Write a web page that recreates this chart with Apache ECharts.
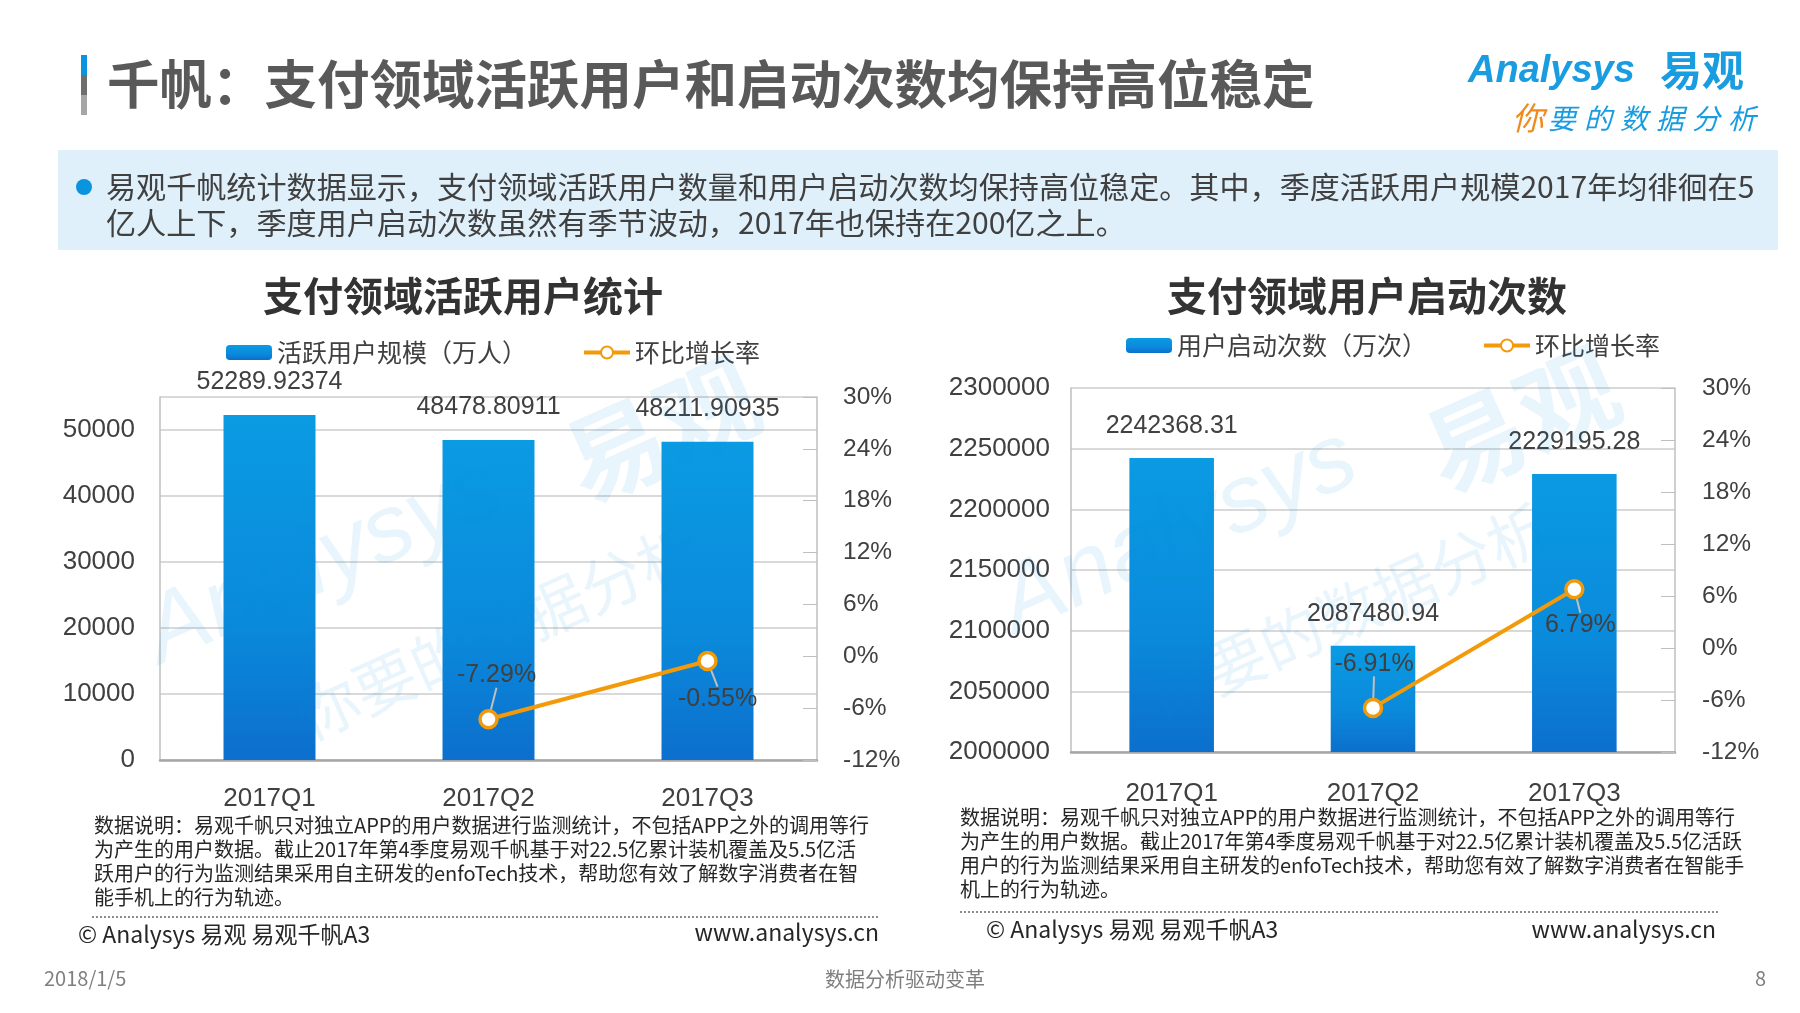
<!DOCTYPE html>
<html>
<head>
<meta charset="utf-8">
<script src="https://cdn.jsdelivr.net/npm/echarts@6/dist/echarts.min.js"></script>
<style>
html,body{margin:0;padding:0;background:#fff;}
#main{width:1800px;height:1013px;}
</style>
</head>
<body>
<div id="main"></div>
<script>
// ---- data ----
const categories = ['2017Q1', '2017Q2', '2017Q3'];
const activeUsers = [52289.92374, 48478.80911, 48211.90935];
const activeUsersGrowth = [null, -7.29, -0.55];
const launches = [2242368.31, 2087480.94, 2229195.28];
const launchesGrowth = [null, -6.91, 6.79];
const leftChartTitle = '支付领域活跃用户统计';
const rightChartTitle = '支付领域用户启动次数';
const leftBarName = '活跃用户规模（万人）';
const rightBarName = '用户启动次数（万次）';
const lineName = '环比增长率';
const pageTitle = '千帆：支付领域活跃用户和启动次数均保持高位稳定';
const summaryLines = [
  '易观千帆统计数据显示，支付领域活跃用户数量和用户启动次数均保持高位稳定。其中，季度活跃用户规模2017年均徘徊在5',
  '亿人上下，季度用户启动次数虽然有季节波动，2017年也保持在200亿之上。'
];
const leftNotes = [
  '数据说明：易观千帆只对独立APP的用户数据进行监测统计，不包括APP之外的调用等行',
  '为产生的用户数据。截止2017年第4季度易观千帆基于对22.5亿累计装机覆盖及5.5亿活',
  '跃用户的行为监测结果采用自主研发的enfoTech技术，帮助您有效了解数字消费者在智',
  '能手机上的行为轨迹。'
];
const rightNotes = [
  '数据说明：易观千帆只对独立APP的用户数据进行监测统计，不包括APP之外的调用等行',
  '为产生的用户数据。截止2017年第4季度易观千帆基于对22.5亿累计装机覆盖及5.5亿活跃',
  '用户的行为监测结果采用自主研发的enfoTech技术，帮助您有效了解数字消费者在智能手',
  '机上的行为轨迹。'
];

const CJK = '"Noto Sans CJK SC", "Liberation Sans", sans-serif';
const NUM = '"Liberation Sans", "Noto Sans CJK SC", sans-serif';
const textColor = '#404040';
const barGradient = new echarts.graphic.LinearGradient(0, 0, 0, 1, [
  {offset: 0, color: '#0A9BE3'},
  {offset: 0.6, color: '#0A8ADB'},
  {offset: 1, color: '#0C6FCD'}
]);
const lineColor = '#F39A0B';

function txt(x, y, text, size, opts) {
  opts = opts || {};
  return {
    type: 'text', x: x, y: y, z: 100, silent: true,
    rotation: opts.rotation || 0,
    style: {
      text: text,
      fill: opts.fill || textColor,
      font: (opts.italic ? 'italic ' : '') + (opts.weight || 'normal') + ' ' + size + 'px ' + (opts.family || CJK),
      textAlign: opts.align || 'left',
      textVerticalAlign: 'middle',
      verticalAlign: 'middle',
      opacity: opts.opacity == null ? 1 : opts.opacity
    }
  };
}

const graphics = [];
// accent bar
graphics.push({type: 'rect', shape: {x: 81, y: 55, width: 6, height: 20}, style: {fill: '#0A94DD'}});
graphics.push({type: 'rect', shape: {x: 81, y: 75, width: 6, height: 20}, style: {fill: '#6E6E6E'}});
graphics.push({type: 'rect', shape: {x: 81, y: 95, width: 6, height: 20}, style: {fill: '#A6A6A6'}});
graphics.push(txt(107, 84, pageTitle, 52.5, {weight: 'bold', fill: '#595959'}));
// logo
graphics.push(txt(1468, 72, 'Analysys', 38, {italic: true, weight: 'bold', fill: '#1A9CE0', family: '"Liberation Sans", sans-serif'}));
graphics.push(txt(1660, 70, '易观', 42, {weight: 'bold', fill: '#1A9CE0'}));
const slogan = '你要的数据分析';
for (let i = 0; i < slogan.length; i++) {
  graphics.push(txt(1512 + i * 36, 118, slogan[i], i === 0 ? 32 : 28, {fill: i === 0 ? '#F08A1C' : '#1A9CE0', italic: true}));
}
// summary box
graphics.push({type: 'rect', shape: {x: 58, y: 150, width: 1720, height: 100}, style: {fill: '#DFF0FB'}});
graphics.push({type: 'circle', shape: {cx: 84, cy: 187, r: 8}, style: {fill: '#0A94DD'}});
graphics.push(txt(106, 187, summaryLines[0], 30.1));
graphics.push(txt(106, 223, summaryLines[1], 30.1));
// chart titles
graphics.push(txt(463, 296, leftChartTitle, 40, {weight: 'bold', fill: '#333333', align: 'center'}));
graphics.push(txt(1367, 296, rightChartTitle, 40, {weight: 'bold', fill: '#333333', align: 'center'}));
// watermarks
const wm = 'rgba(0,140,225,0.09)';
graphics.push(txt(150, 640, 'Analysys', 95, {italic: true, fill: wm, family: '"Liberation Sans", sans-serif', rotation: 0.42}));
graphics.push(txt(570, 470, '易观', 100, {weight: 'bold', fill: wm, rotation: 0.42}));
graphics.push(txt(300, 720, '你要的数据分析', 62, {fill: wm, rotation: 0.42}));
graphics.push(txt(1005, 610, 'Analysys', 95, {italic: true, fill: wm, family: '"Liberation Sans", sans-serif', rotation: 0.42}));
graphics.push(txt(1430, 460, '易观', 100, {weight: 'bold', fill: wm, rotation: 0.42}));
graphics.push(txt(1150, 700, '你要的数据分析', 62, {fill: wm, rotation: 0.42}));
// notes
leftNotes.forEach(function (l, i) { graphics.push(txt(94, 825 + i * 24.3, l, 20, {fill: '#262626'})); });
rightNotes.forEach(function (l, i) { graphics.push(txt(960, 817 + i * 24.3, l, 20, {fill: '#262626'})); });
graphics.push({type: 'line', shape: {x1: 92, y1: 917, x2: 879, y2: 917}, style: {stroke: '#8C8C8C', lineWidth: 2, lineDash: [2, 2]}});
graphics.push({type: 'line', shape: {x1: 960, y1: 912, x2: 1719, y2: 912}, style: {stroke: '#8C8C8C', lineWidth: 2, lineDash: [2, 2]}});
graphics.push(txt(78, 934, '© Analysys 易观 易观千帆A3', 23, {fill: '#262626'}));
graphics.push(txt(879, 932, 'www.analysys.cn', 23, {fill: '#262626', align: 'right'}));
graphics.push(txt(986, 929, '© Analysys 易观 易观千帆A3', 23, {fill: '#262626'}));
graphics.push(txt(1716, 929, 'www.analysys.cn', 23, {fill: '#262626', align: 'right'}));
// footer
graphics.push(txt(44, 978, '2018/1/5', 20, {fill: '#7F7F7F'}));
graphics.push(txt(905, 979, '数据分析驱动变革', 20, {fill: '#7F7F7F', align: 'center'}));
graphics.push(txt(1766, 978, '8', 20, {fill: '#7F7F7F', align: 'right'}));

function valueAxis(gridIndex, min, max, interval, isPct, margin) {
  return {
    type: 'value', gridIndex: gridIndex, min: min, max: max, interval: interval,
    position: isPct ? 'right' : 'left',
    axisLine: {show: true, lineStyle: {color: '#BFBFBF', width: 1.5}},
    axisTick: isPct ? {show: true, inside: true, length: 14, lineStyle: {color: '#BFBFBF'}} : {show: false},
    splitLine: isPct ? {show: false} : {show: true, lineStyle: {color: '#D9D9D9', width: 2}},
    axisLabel: {
      color: textColor, fontSize: isPct ? 24.5 : 26, fontFamily: NUM, margin: margin,
      showMaxLabel: isPct ? true : (max % interval === 0),
      formatter: isPct ? function (v) { return v + '%'; } : function (v) { return String(v); }
    }
  };
}
function catAxis(gridIndex, margin) {
  return {
    type: 'category', gridIndex: gridIndex, data: categories,
    axisLine: {onZero: false, lineStyle: {color: '#A6A6A6', width: 2.5}},
    axisTick: {show: false},
    axisLabel: {color: textColor, fontSize: 26, fontFamily: NUM, margin: margin}
  };
}
function labelShift(offsets) {
  return function (params) {
    const o = offsets[params.dataIndex] || [0, 0];
    return {dx: o[0], dy: o[1]};
  };
}

const option = {
  animation: false,
  backgroundColor: '#ffffff',
  graphic: graphics,
  grid: [
    {left: 160, right: 983, top: 397, bottom: 253},
    {left: 1071, right: 125, top: 388, bottom: 261}
  ],
  legend: [
    {
      data: [leftBarName, lineName], left: 221, top: 335, itemWidth: 46, itemHeight: 15, itemGap: 55,
      lineStyle: {width: 4},
      textStyle: {color: textColor, fontSize: 25, fontFamily: CJK}
    },
    {
      data: [rightBarName, lineName], left: 1121, top: 328, itemWidth: 46, itemHeight: 15, itemGap: 55,
      lineStyle: {width: 4},
      textStyle: {color: textColor, fontSize: 25, fontFamily: CJK}
    }
  ],
  xAxis: [catAxis(0, 26), catAxis(1, 29)],
  yAxis: [
    valueAxis(0, 0, 55000, 10000, false, 25),
    valueAxis(0, -12, 30, 6, true, 26),
    valueAxis(1, 2000000, 2300000, 50000, false, 21),
    valueAxis(1, -12, 30, 6, true, 27)
  ],
  series: [
    {
      name: leftBarName, type: 'bar', xAxisIndex: 0, yAxisIndex: 0, data: activeUsers, barWidth: '42%',
      itemStyle: {color: barGradient},
      label: {show: true, position: 'top', distance: 20, color: textColor, fontSize: 25, fontFamily: NUM}
    },
    {
      name: lineName, type: 'line', xAxisIndex: 0, yAxisIndex: 1, data: activeUsersGrowth,
      symbol: 'circle', symbolSize: 17, showAllSymbol: true,
      lineStyle: {color: lineColor, width: 4},
      itemStyle: {color: '#ffffff', borderColor: lineColor, borderWidth: 3.5},
      label: {show: true, position: 'inside', color: textColor, fontSize: 25, fontFamily: NUM, formatter: '{c}%'},
      labelLayout: labelShift([[0, 0], [8, -44], [10, 38]]),
      labelLine: {show: true, length2: 0, lineStyle: {color: '#BFBFBF', width: 2}},
      z: 5
    },
    {
      name: rightBarName, type: 'bar', xAxisIndex: 1, yAxisIndex: 2, data: launches, barWidth: '42%',
      itemStyle: {color: barGradient},
      label: {show: true, position: 'top', distance: 19, color: textColor, fontSize: 25, fontFamily: NUM}
    },
    {
      name: lineName, type: 'line', xAxisIndex: 1, yAxisIndex: 3, data: launchesGrowth,
      symbol: 'circle', symbolSize: 17, showAllSymbol: true,
      lineStyle: {color: lineColor, width: 4},
      itemStyle: {color: '#ffffff', borderColor: lineColor, borderWidth: 3.5},
      label: {show: true, position: 'inside', color: textColor, fontSize: 25, fontFamily: NUM, formatter: '{c}%'},
      labelLayout: labelShift([[0, 0], [1, -44], [6, 36]]),
      labelLine: {show: true, length2: 0, lineStyle: {color: '#BFBFBF', width: 2}},
      z: 5
    }
  ]
};

const chart = echarts.init(document.getElementById('main'), null, {renderer: 'canvas'});
chart.setOption(option);
</script>
</body>
</html>
